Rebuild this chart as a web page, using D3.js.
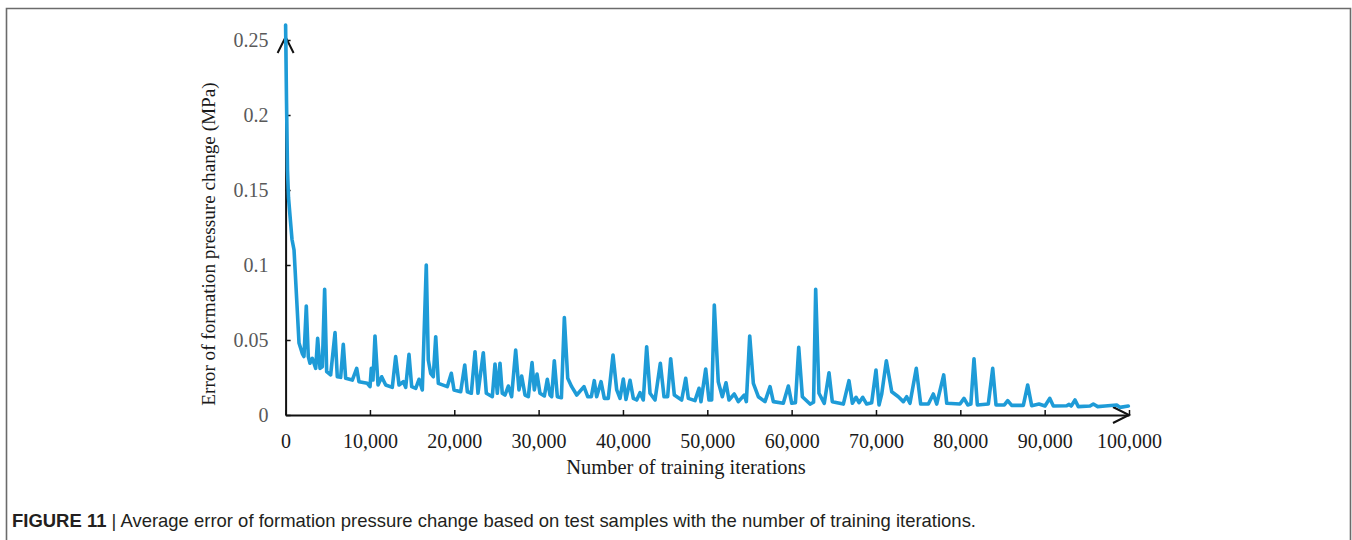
<!DOCTYPE html>
<html>
<head>
<meta charset="utf-8">
<script src="https://cdn.jsdelivr.net/npm/d3@7"></script>
<style>
  body { margin: 0; background: #fff; }
  svg { display: block; }
</style>
</head>
<body>
<div id="chart"></div>
<script>
// iterations, with the average error (MPa) at each one
var iterations = [0, 107, 225, 344, 520, 760, 1000, 1315, 1590, 1980, 2180, 2455, 2690, 2890, 3170, 3570, 3800, 4080, 4350, 4630, 4870, 5340, 5860, 6130, 6530, 6840, 7120, 7910, 8430, 8700, 9690, 10010, 10160, 10360, 10600, 10960, 11390, 11870, 12650, 13050, 13450, 13960, 14240, 14630, 14950, 15430, 15820, 16210, 16680, 16920, 17200, 17510, 17800, 18110, 19170, 19650, 19970, 20760, 21240, 21550, 22020, 22460, 22810, 23440, 23800, 24510, 24830, 25100, 25420, 25690, 26010, 26410, 26800, 27280, 27670, 27990, 28390, 28780, 29220, 29490, 29810, 30160, 30680, 31030, 31350, 31550, 31860, 32220, 32700, 33050, 33450, 33920, 34520, 35380, 35820, 36250, 36600, 36880, 37400, 37790, 38260, 38820, 39260, 39650, 40040, 40360, 40840, 41230, 41630, 42020, 42410, 42810, 43210, 43800, 44430, 44870, 45300, 45660, 46090, 46960, 47440, 47750, 48540, 49020, 49250, 49810, 50200, 50520, 50830, 51300, 51780, 52220, 52570, 53200, 53680, 54390, 54630, 55030, 55460, 56050, 56840, 57440, 57830, 59010, 59610, 60010, 60450, 60840, 61270, 62180, 62600, 62850, 63240, 63870, 64430, 64820, 66130, 66800, 67200, 67640, 67990, 68430, 68900, 69490, 70000, 70360, 70680, 71230, 71870, 72650, 73240, 73640, 74030, 74780, 75300, 76210, 76800, 77200, 78030, 78390, 79960, 80440, 80880, 81250, 81620, 82020, 83320, 83840, 84230, 85220, 85620, 86090, 87470, 87990, 88460, 89330, 90040, 90600, 91030, 92610, 92890, 93150, 93600, 93990, 95380, 95770, 96290, 97160, 98540, 98930, 99920];
var errors = [0.26, 0.21, 0.163, 0.145, 0.133, 0.117, 0.11, 0.077, 0.048, 0.041, 0.039, 0.0727, 0.039, 0.0345, 0.0378, 0.0311, 0.0511, 0.0311, 0.0322, 0.0838, 0.0289, 0.0267, 0.0549, 0.0255, 0.0251, 0.0471, 0.0245, 0.0233, 0.0311, 0.0222, 0.0211, 0.0189, 0.0311, 0.0233, 0.0527, 0.02, 0.0255, 0.02, 0.0184, 0.0389, 0.02, 0.0222, 0.0184, 0.0404, 0.0189, 0.0178, 0.0238, 0.0167, 0.1, 0.0367, 0.0278, 0.0255, 0.0522, 0.0211, 0.0189, 0.0278, 0.0167, 0.0155, 0.0333, 0.0155, 0.0145, 0.0422, 0.0145, 0.0415, 0.0145, 0.0122, 0.034, 0.0145, 0.0345, 0.0145, 0.0133, 0.0193, 0.0122, 0.0433, 0.0167, 0.026, 0.0133, 0.0122, 0.0349, 0.0167, 0.0273, 0.0145, 0.0127, 0.0238, 0.0133, 0.0122, 0.0362, 0.0122, 0.0115, 0.0649, 0.0245, 0.0189, 0.0133, 0.0189, 0.0122, 0.0122, 0.0229, 0.0122, 0.0222, 0.0111, 0.0111, 0.04, 0.0167, 0.0111, 0.024, 0.0104, 0.0231, 0.0111, 0.01, 0.0149, 0.01, 0.0455, 0.0145, 0.01, 0.0345, 0.0122, 0.0122, 0.0375, 0.0133, 0.01, 0.0245, 0.0111, 0.0096, 0.0178, 0.0089, 0.0307, 0.01, 0.01, 0.0733, 0.0222, 0.0122, 0.0215, 0.01, 0.014, 0.0089, 0.0133, 0.0089, 0.0527, 0.0211, 0.0122, 0.0089, 0.0189, 0.0089, 0.0078, 0.0193, 0.0078, 0.0082, 0.0451, 0.0122, 0.0073, 0.0085, 0.0838, 0.0145, 0.0078, 0.0282, 0.0089, 0.0073, 0.0229, 0.0078, 0.0118, 0.0082, 0.0118, 0.0073, 0.0082, 0.03, 0.0067, 0.014, 0.0362, 0.0155, 0.0122, 0.0089, 0.0122, 0.0078, 0.0311, 0.0073, 0.0073, 0.014, 0.0073, 0.0267, 0.0078, 0.0073, 0.0111, 0.0067, 0.0073, 0.0375, 0.0067, 0.0073, 0.0311, 0.0067, 0.0067, 0.0096, 0.0064, 0.0064, 0.02, 0.0062, 0.0073, 0.006, 0.0111, 0.006, 0.0062, 0.0071, 0.006, 0.01, 0.0056, 0.006, 0.0073, 0.0056, 0.006, 0.0067, 0.0051, 0.006];

var xTicks = [0, 10000, 20000, 30000, 40000, 50000, 60000, 70000, 80000, 90000, 100000];
var xTickLabels = ["0", "10,000", "20,000", "30,000", "40,000", "50,000", "60,000", "70,000", "80,000", "90,000", "100,000"];
var yTicks = [0, 0.05, 0.1, 0.15, 0.2, 0.25];
var yTickLabels = ["0", "0.05", "0.1", "0.15", "0.2", "0.25"];

var width = 1352,
height = 540;

var svg = d3.select("#chart").append("svg")
.attr("width", width)
.attr("height", height);

// figure frame (top and sides only show in the crop)
svg.append("path")
.attr("d", "M6.5,560V8.5H1350.5V560")
.attr("fill", "none")
.attr("stroke", "#6b6b6b")
.attr("stroke-width", 1.6);

var x = d3.scaleLinear().domain([0, 100000]).range([285.6, 1129]);
var y = d3.scaleLinear().domain([0, 0.25]).range([415, 40]);

var serif = "'Liberation Serif', 'Times New Roman', serif";

// x axis, ticks pointing up into the plot
var xAxis = d3.axisBottom(x)
.tickValues(xTicks)
.tickFormat(function(d, i) { return xTickLabels[i]; })
.tickSizeInner(-5)
.tickSizeOuter(0)
.tickPadding(19);

var gx = svg.append("g")
.attr("transform", "translate(0," + y(0) + ")")
.call(xAxis);
gx.select(".domain").attr("stroke", "#111").attr("stroke-width", 2);
gx.selectAll(".tick line").attr("stroke", "#111").attr("stroke-width", 1.5);
gx.selectAll(".tick text")
.attr("fill", "#1a1a1a")
.style("font-family", serif)
.style("font-size", "20px");

// y axis, ticks pointing right
var yAxis = d3.axisLeft(y)
.tickValues(yTicks)
.tickFormat(function(d, i) { return yTickLabels[i]; })
.tickSizeInner(-5)
.tickSizeOuter(0)
.tickPadding(17);

var gy = svg.append("g")
.attr("transform", "translate(" + x(0) + ",0)")
.call(yAxis);
gy.select(".domain").attr("stroke", "#111").attr("stroke-width", 2);
gy.selectAll(".tick line").attr("stroke", "#111").attr("stroke-width", 1.5);
gy.selectAll(".tick text")
.attr("fill", "#595959")
.style("font-family", serif)
.style("font-size", "20px");

// arrow heads at the axis ends
var arrows = svg.append("g")
.attr("fill", "none")
.attr("stroke", "#111")
.attr("stroke-width", 2);
var ax = x(100000), ay = y(0);
arrows.append("path")
.attr("d", "M" + (ax - 16) + "," + (ay - 8) + "L" + ax + "," + ay + "L" + (ax - 16) + "," + (ay + 8));
var tx = x(0), ty = y(0.25) - 3;
arrows.append("path")
.attr("d", "M" + tx + "," + (ty + 4) + "V" + ty);
arrows.append("path")
.attr("d", "M" + (tx - 8) + "," + (ty + 16) + "L" + tx + "," + ty + "L" + (tx + 8) + "," + (ty + 16));

// the error curve
var line = d3.line()
.x(function(d, i) { return x(iterations[i]); })
.y(function(d) { return y(d); });

svg.append("path")
.datum(errors)
.attr("d", line)
.attr("fill", "none")
.attr("stroke", "#1e9bd7")
.attr("stroke-width", 3.6)
.attr("stroke-linejoin", "round")
.attr("stroke-linecap", "round");

// axis titles
svg.append("text")
.attr("transform", "translate(215,244) rotate(-90)")
.attr("text-anchor", "middle")
.attr("fill", "#1a1a1a")
.style("font-family", serif)
.style("font-size", "19.2px")
.text("Error of formation pressure change (MPa)");

svg.append("text")
.attr("x", 686)
.attr("y", 474)
.attr("text-anchor", "middle")
.attr("fill", "#1a1a1a")
.style("font-family", serif)
.style("font-size", "20.5px")
.text("Number of training iterations");

// caption, squeezed to the width it takes in the figure
var cap = svg.append("text")
.attr("x", 12)
.attr("y", 527)
.attr("fill", "#231f20")
.attr("textLength", 964)
.attr("lengthAdjust", "spacingAndGlyphs")
.style("font-family", "'Liberation Sans', Arial, sans-serif")
.style("font-size", "19px");
cap.append("tspan").style("font-weight", "bold").text("FIGURE 11");
cap.append("tspan").text(" | Average error of formation pressure change based on test samples with the number of training iterations.");
</script>
</body>
</html>
